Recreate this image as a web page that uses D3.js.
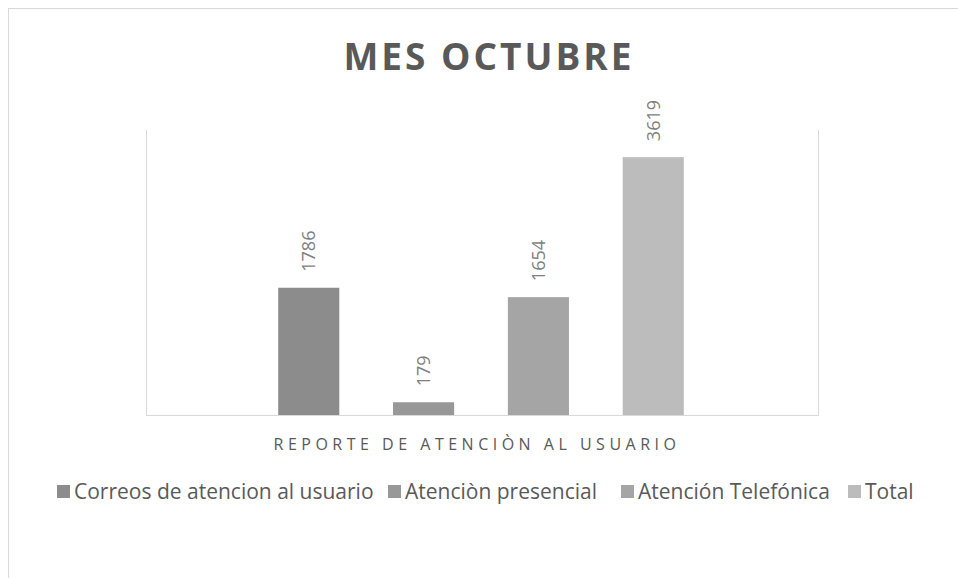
<!DOCTYPE html>
<html>
<head>
<meta charset="utf-8">
<script src="https://cdn.jsdelivr.net/npm/d3@7"></script>
<style>
  body{margin:0;background:#fff;}
  text{font-family:"Open Sans",sans-serif;}
</style>
</head>
<body>
<div id="chart"></div>
<script>
// data
var series = ['Correos de atencion al usuario','Atenciòn presencial','Atención Telefónica','Total'];
var values = [1786,179,1654,3619];
var colors = ['#8c8c8c','#989898','#a5a5a5','#bcbcbc'];
var category = 'REPORTE DE ATENCIÒN AL USUARIO';
var title = 'MES OCTUBRE';

var W = 958, H = 578;
var plot = {left:146, right:818, top:130, bottom:415};

var svg = d3.select('#chart').append('svg')
  .attr('width',W).attr('height',H);

// chart area border (runs off the right and bottom edge)
svg.append('rect')
  .attr('x',8.5).attr('y',8.5)
  .attr('width',W+20).attr('height',H+20)
  .attr('fill','none').attr('stroke','#d9d9d9');

svg.append('text')
  .attr('x',489).attr('y',70)
  .attr('text-anchor','middle')
  .attr('fill','#595959')
  .style('font-size','37px').style('font-weight','bold')
  .style('letter-spacing','3px')
  .text(title);

var y = d3.scaleLinear().domain([0,4000]).range([plot.bottom,plot.top]);
var x = d3.scaleBand().domain(series)
  .range([plot.left-1,plot.right-1])
  .paddingInner(0.468).paddingOuter(1.16);

// plot frame lines
svg.append('line')
  .attr('x1',plot.left+0.5).attr('x2',plot.left+0.5)
  .attr('y1',plot.top).attr('y2',plot.bottom)
  .attr('stroke','#d9d9d9');
svg.append('line')
  .attr('x1',plot.right+0.5).attr('x2',plot.right+0.5)
  .attr('y1',plot.top).attr('y2',plot.bottom)
  .attr('stroke','#d9d9d9');

svg.selectAll('rect.bar')
  .data(values)
  .enter().append('rect')
  .attr('class','bar')
  .attr('x',function(d,i){return x(series[i]);})
  .attr('width',x.bandwidth())
  .attr('y',function(d){return y(d);})
  .attr('height',function(d){return y(0)-y(d);})
  .attr('fill',function(d,i){return colors[i];});

svg.append('line')
  .attr('x1',plot.left).attr('x2',plot.right+1)
  .attr('y1',plot.bottom+0.5).attr('y2',plot.bottom+0.5)
  .attr('stroke','#d9d9d9');

// data labels, rotated
svg.selectAll('text.lbl')
  .data(values)
  .enter().append('text')
  .attr('class','lbl')
  .attr('transform',function(d,i){
    var cx = x(series[i]) + x.bandwidth()/2 + 6.5;
    return 'translate('+cx+','+(y(d)-16)+') rotate(-90)';
  })
  .attr('fill','#7f7f7f')
  .style('font-size','18px')
  .text(function(d){return d;});

svg.append('text')
  .attr('x',477).attr('y',450)
  .attr('text-anchor','middle')
  .attr('fill','#595959')
  .style('font-size','16px')
  .style('letter-spacing','4.5px')
  .text(category);

// legend
var legendX = [57,388,621,848];
var lg = svg.selectAll('g.leg')
  .data(series)
  .enter().append('g')
  .attr('class','leg')
  .attr('transform',function(d,i){return 'translate('+legendX[i]+',0)';});
lg.append('rect')
  .attr('x',0).attr('y',485)
  .attr('width',13).attr('height',13)
  .attr('fill',function(d,i){return colors[i];});
lg.append('text')
  .attr('x',17).attr('y',499)
  .attr('fill','#595959')
  .style('font-size','21px')
  .text(function(d){return d;});
</script>
</body>
</html>
